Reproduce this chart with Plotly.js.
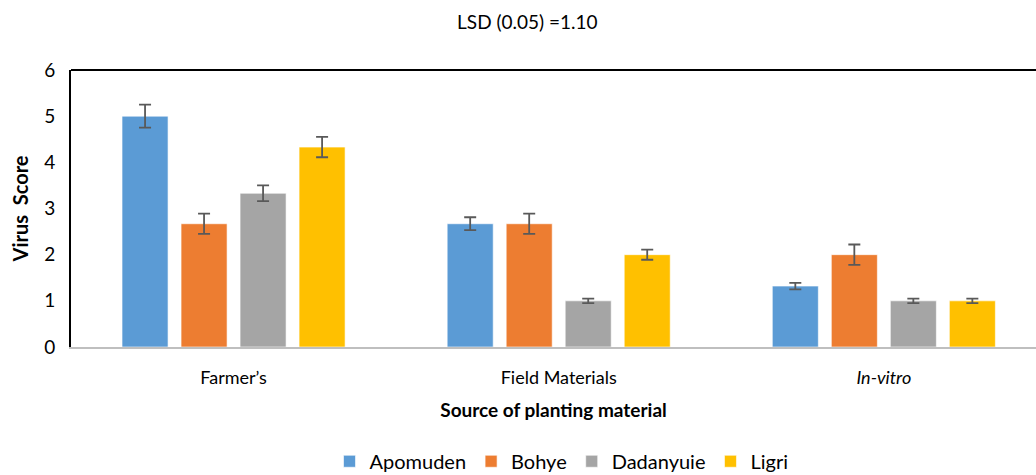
<!DOCTYPE html>
<html>
<head>
<meta charset="utf-8">
<script src="https://cdn.plot.ly/plotly-3.0.1.min.js"></script>
<style>html,body{margin:0;padding:0;overflow:hidden;background:#fff;}</style>
</head>
<body>
<div id="chart" style="width:1036px;height:475px;"></div>
<script>
const categories = ["Farmer\u2019s", "Field Materials", "<i>In-vitro</i>"];
const seriesNames = ["Apomuden", "Bohye", "Dadanyuie", "Ligri"];
const apomuden = [5.0, 2.67, 1.32];
const bohye = [2.67, 2.67, 2.0];
const dadanyuie = [3.33, 1.0, 1.0];
const ligri = [4.33, 2.0, 1.0];
const apomudenErr = [0.25, 0.14, 0.07];
const bohyeErr = [0.22, 0.22, 0.22];
const dadanyuieErr = [0.17, 0.05, 0.05];
const ligriErr = [0.22, 0.11, 0.05];
const colors = ["#5B9BD5", "#ED7D31", "#A5A5A5", "#FFC000"];

const vals = [apomuden, bohye, dadanyuie, ligri];
const errs = [apomudenErr, bohyeErr, dadanyuieErr, ligriErr];
const font = "Lato, 'Open Sans', sans-serif";

const data = seriesNames.map((n, i) => ({
  type: "bar",
  name: n,
  x: categories,
  y: vals[i],
  marker: {color: colors[i], line: {color: "rgba(255,255,255,0.6)", width: 1}},
  error_y: {type: "data", array: errs[i], visible: true, color: "#595959", thickness: 1.8, width: 6}
}));

const layout = {
  width: 1036, height: 475,
  margin: {l: 71, r: 0, t: 70, b: 128},
  paper_bgcolor: "#fff", plot_bgcolor: "#fff",
  barmode: "group",
  bargap: 0.274,
  bargroupgap: 0.22,
  font: {family: font, color: "#000"},
  title: {text: "LSD (0.05) =1.10", x: 0.509, xanchor: "center", y: 0.952, yanchor: "middle", font: {family: font, size: 19, color: "#000"}},
  xaxis: {
    range: [-0.5, 2.468],
    showline: true, linecolor: "#BFBFBF", linewidth: 2,
    showgrid: false, zeroline: false,
    ticks: "", ticklabelstandoff: 13, tickfont: {family: font, size: 18, color: "#000"},
    title: {text: "<b>Source of planting material</b>", font: {family: font, size: 19, color: "#000"}, standoff: 17},
    automargin: false
  },
  yaxis: {
    range: [0, 6], dtick: 1,
    showline: true, linecolor: "#000", linewidth: 2,
    showgrid: false, zeroline: false,
    ticks: "", ticklabelstandoff: 10, tickfont: {family: font, size: 19, color: "#000"},
    title: {text: "<b>Virus  Score</b>", font: {family: font, size: 20, color: "#000"}, standoff: 10},
    automargin: false
  },
  shapes: [
    {type: "line", xref: "paper", yref: "paper", x0: 0, x1: 1, y0: 1, y1: 1, line: {color: "#000", width: 2}}
  ],
  showlegend: true,
  legend: {orientation: "h", x: 0.542, xref: "container", xanchor: "center", y: 0.07, yref: "container", yanchor: "top",
    font: {family: font, size: 20, color: "#000"}, itemwidth: 30, traceorder: "normal"}
};

Plotly.newPlot("chart", data, layout, {displayModeBar: false, staticPlot: true});
</script>
</body>
</html>
